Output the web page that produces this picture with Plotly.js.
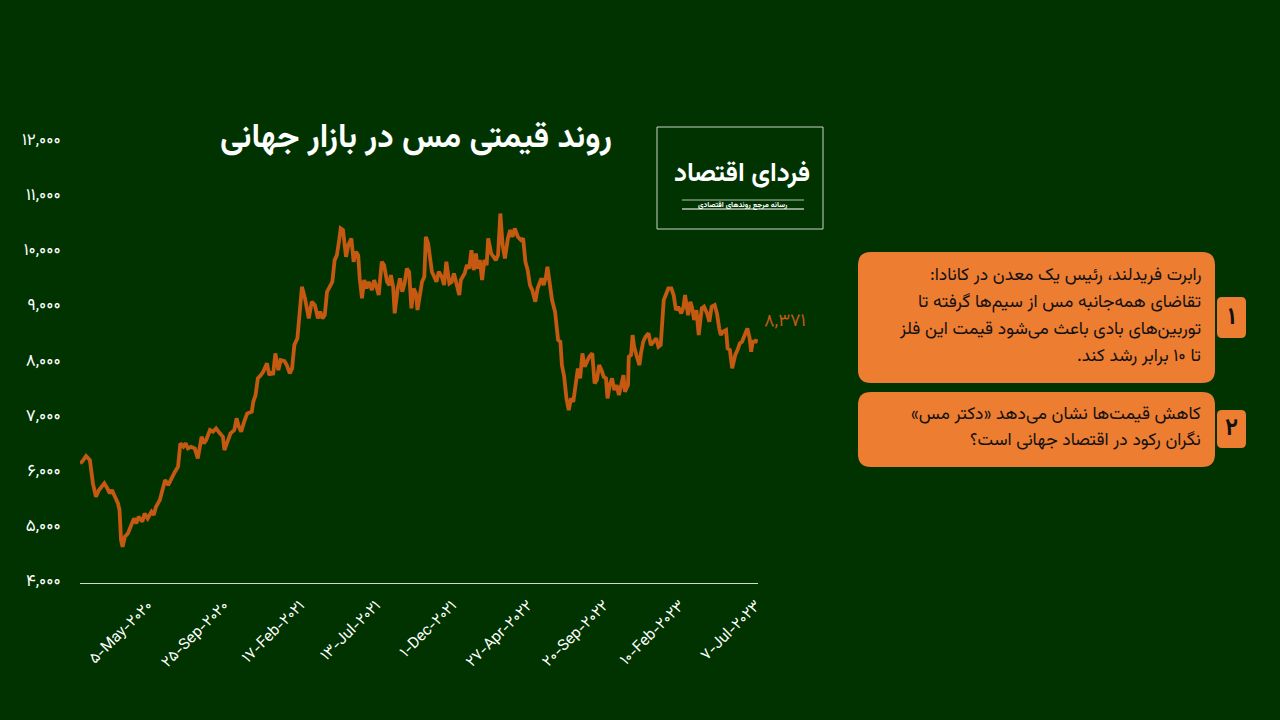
<!DOCTYPE html>
<html>
<head>
<meta charset="utf-8">
<script src="https://cdn.plot.ly/plotly-3.0.1.min.js"></script>
<style>
html,body{margin:0;padding:0;background:#003300;}
#chart{width:1280px;height:720px;}
</style>
</head>
<body>
<div id="chart"></div>
<script>
// Trading-day number (0 = first trading day of 2020) and LME copper price (USD/t)
const tradingDay = [
  0,3,8,13,17,21,25,28,32,36,
  39,42,46,50,52,54,56,59,63,67,
  71,74,77,82,85,89,94,97,100,105,
  109,112,116,120,125,129,132,136,139,142,
  146,151,155,160,163,166,171,175,179,184,
  188,190,195,198,203,206,209,212,216,220,
  226,228,231,234,238,241,246,249,252,254,
  257,261,264,269,272,276,279,282,286,289,
  292,296,300,301,305,309,313,316,319,322,
  325,329,332,335,338,341,343,346,350,353,
  357,360,363,366,368,371,374,377,380,384,
  387,390,393,397,400,404,407,409,412,414,
  418,421,424,427,430,433,436,439,442,444,
  447,450,453,455,458,461,463,466,469,472,
  476,479,482,486,489,492,496,499,501,506,
  509,512,515,518,521,523,526,529,532,535,
  537,541,544,547,550,553,556,559,563,566,
  569,572,576,580,583,586,589,592,595,599,
  602,607,610,613,615,618,621,625,629,632,
  634,637,640,643,646,649,652,655,658,661,
  664,667,670,674,677,680,683,686,689,692,
  694,697,700,703,706,709,712,715,717,721,
  722,725,727,729,732,736,738,741,744,748,
  751,754,758,761,764,768,771,774,778,781,
  784,787,791,794,796,800,803,805,808,811,
  814,818,821,825,828,831,835,838,841,843,
  846,850,852,855,858,862,865,868,871,875,
  878,881,883,885,889,890
];
const price = [
  6117,6150,6249,6177,5754,5511,5633,5693,5754,5663,
  5573,5633,5511,5391,5270,4726,4604,4785,4846,4967,
  5118,5028,5148,5058,5209,5118,5239,5179,5330,5451,
  5693,5814,5723,5845,5965,6056,6480,6418,6480,6388,
  6418,6388,6207,6600,6480,6540,6721,6691,6752,6661,
  6600,6358,6540,6661,6721,6933,6782,6691,6873,7024,
  7054,7235,7356,7659,7719,7779,7931,7719,7779,7719,
  8112,7810,7991,7973,7900,7749,7840,8263,8385,8929,
  9320,9110,8868,8747,9050,8989,8747,8868,8747,8807,
  9230,9351,9411,9805,9896,10168,10380,10349,9865,10077,
  10198,9774,9956,9896,9473,9110,9442,9290,9411,9260,
  9442,9320,9170,9774,9714,9411,9351,9533,9320,8838,
  9290,9473,9230,9381,9653,9593,8929,9290,9200,8898,
  9110,9411,9502,10228,10107,9835,9593,9502,9411,9593,
  9502,9351,9774,9381,9411,9563,9351,9170,9442,9563,
  9714,9653,9986,9623,9925,9653,9805,9442,9805,9714,
  10198,9925,9865,9805,9896,10650,10077,9835,10198,10349,
  10228,10380,10228,10168,10198,9774,9623,9351,9260,9050,
  9290,9473,9351,9502,9683,9411,9079,8868,8354,8324,
  7900,7689,7296,7084,7296,7235,7598,7840,7659,8112,
  7870,7961,8052,8112,7568,7628,7900,7810,7689,7659,
  7296,7537,7659,7447,7537,7356,7507,7719,7416,7537,
  8052,8083,8445,8233,8083,7900,8112,8324,8415,8475,
  8263,8324,8385,8233,8263,9079,9170,9290,9290,9170,
  8898,8959,8838,8959,9170,8807,9050,8959,8717,8898,
  8445,8929,8959,8838,8687,8959,8989,8838,8566,8445,
  8505,8536,8203,8172,7840,8083,8172,8294,8324,8475,
  8566,8385,8142,8324,8324,8371
];
// x-axis tick positions (trading-day numbers) and their labels
const tickDays = [89,189,289,389,489,589,689,789,889];
const tickLabels = ['5-May-2020','25-Sep-2020','17-Feb-2021','13-Jul-2021','1-Dec-2021','27-Apr-2022','20-Sep-2022','10-Feb-2023','7-Jul-2023'];
const yTicks = [4000,5000,6000,7000,8000,9000,10000,11000,12000];

const chartTitle = 'روند قیمتی مس در بازار جهانی';
const logoName = 'فردای اقتصاد';
const logoTagline = 'رسانه مرجع روندهای اقتصادی';
const note1Lines = [
  'رابرت فریدلند، رئیس یک معدن در کانادا:',
  'تقاضای همه‌جانبه مس از سیم‌ها گرفته تا',
  'توربین‌های بادی باعث می‌شود قیمت این فلز',
  'تا ۱۰ برابر رشد کند.'
];
const note2Lines = [
  'کاهش قیمت‌ها نشان می‌دهد «دکتر مس»',
  'نگران رکود در اقتصاد جهانی است؟'
];
const noteNumbers = ['۱','۲'];

function toFa(s){ return String(s).replace(/[0-9]/g, d => '۰۱۲۳۴۵۶۷۸۹'[d]); }
const RLM = '\u200F';

const FA = 'Vazirmatn, "Noto Sans Arabic", "DejaVu Sans", "Noto Sans", sans-serif';
const BG = '#003300';
const ORANGE = '#ED7D31';
const LINE = '#C65911';

// plot-area geometry helpers (pixel -> paper)
const L = 80, R = 758, T = 139, B = 583;
const px = x => (x - L) / (R - L);
const py = y => (B - y) / (B - T);
function roundRect(x0, y0, x1, y1, r){
  const P = (x, y) => px(x).toFixed(5) + ',' + py(y).toFixed(5);
  return 'M' + P(x0 + r, y0) + ' L' + P(x1 - r, y0) + ' Q' + P(x1, y0) + ' ' + P(x1, y0 + r) +
    ' L' + P(x1, y1 - r) + ' Q' + P(x1, y1) + ' ' + P(x1 - r, y1) +
    ' L' + P(x0 + r, y1) + ' Q' + P(x0, y1) + ' ' + P(x0, y1 - r) +
    ' L' + P(x0, y0 + r) + ' Q' + P(x0, y0) + ' ' + P(x0 + r, y0) + ' Z';
}

const trace = {
  x: tradingDay, y: price, type: 'scatter', mode: 'lines',
  line: {color: LINE, width: 3.8}, hoverinfo: 'skip'
};

const shapes = [
  {type:'path', xref:'paper', yref:'paper', path: roundRect(858, 252, 1215, 383, 13), fillcolor: ORANGE, line:{width:0}},
  {type:'path', xref:'paper', yref:'paper', path: roundRect(1217, 297, 1246, 338, 5), fillcolor: ORANGE, line:{width:0}},
  {type:'path', xref:'paper', yref:'paper', path: roundRect(858, 392, 1215, 467, 13), fillcolor: ORANGE, line:{width:0}},
  {type:'path', xref:'paper', yref:'paper', path: roundRect(1217, 410, 1246, 448, 5), fillcolor: ORANGE, line:{width:0}},
  {type:'rect', xref:'paper', yref:'paper', x0: px(657), x1: px(823), y0: py(229), y1: py(127), line:{color:'#c9d3c9', width:1}, fillcolor:'rgba(0,0,0,0)'},
  {type:'line', xref:'paper', yref:'paper', x0: px(682), x1: px(804), y0: py(200), y1: py(200), line:{color:'#b8c4b8', width:1}},
  {type:'line', xref:'paper', yref:'paper', x0: px(682), x1: px(804), y0: py(209), y1: py(209), line:{color:'#b8c4b8', width:1.5}}
];

const annotations = [];
note1Lines.forEach((t, i) => annotations.push({
  xref:'paper', yref:'paper', x: px(1203), y: py(275 + i * 27), xanchor:'right', yanchor:'middle',
  text: t + RLM, showarrow:false, font:{family:FA, size:17.5, color:'#111111'}
}));
note2Lines.forEach((t, i) => annotations.push({
  xref:'paper', yref:'paper', x: px(1203), y: py(414 + i * 26), xanchor:'right', yanchor:'middle',
  text: t + RLM, showarrow:false, font:{family:FA, size:17.5, color:'#111111'}
}));
[[318], [429]].forEach((c, i) => annotations.push({
  xref:'paper', yref:'paper', x: px(1231.5), y: py(c[0]), xanchor:'center', yanchor:'middle',
  text: '<b>' + noteNumbers[i] + '</b>', showarrow:false, font:{family:FA, size:24, color:'#111111'}
}));
annotations.push({
  xref:'paper', yref:'paper', x: px(742), y: py(175), xanchor:'center', yanchor:'middle',
  text: '<b>' + logoName + '</b>', showarrow:false, font:{family:FA, size:26, color:'#ffffff'}
});
annotations.push({
  xref:'paper', yref:'paper', x: px(742), y: py(204.5), xanchor:'center', yanchor:'middle',
  text: '<b>' + logoTagline + '</b>', showarrow:false, font:{family:FA, size:7.5, color:'#ffffff'}
});
// last value label
const lastI = price.length - 1;
annotations.push({
  x: tradingDay[lastI], y: price[lastI], xref:'x', yref:'y', xanchor:'left', yanchor:'middle',
  xshift: 6, yshift: 17, showarrow:false,
  text: toFa(price[lastI].toLocaleString('en-US')),
  font:{family:FA, size:18, color:LINE}
});

const layout = {
  width: 1280, height: 720,
  paper_bgcolor: BG, plot_bgcolor: BG,
  margin: {l: L, r: 1280 - R, t: T, b: 720 - B, pad: 0},
  showlegend: false,
  title: {
    text: '<b>' + chartTitle + '</b>',
    x: 416 / 1280, xanchor: 'center', xref: 'container',
    y: 1 - 135 / 720, yanchor: 'middle', yref: 'container',
    font: {family: FA, size: 33, color: '#ffffff'}
  },
  xaxis: {
    range: [0, 892], showgrid: false, zeroline: false,
    showline: true, linecolor: '#cfdccf', linewidth: 1,
    tickmode: 'array', tickvals: tickDays, ticktext: tickLabels.map(toFa),
    tickangle: -45, ticks: 'outside', ticklen: 6, tickcolor: 'rgba(0,0,0,0)',
    tickfont: {family: FA, size: 15.5, color: '#ffffff'}, automargin: false, fixedrange: true
  },
  yaxis: {
    range: [3946, 12002], showgrid: false, zeroline: false, showline: false,
    tickmode: 'array', tickvals: yTicks, ticktext: yTicks.map(v => toFa(v.toLocaleString('en-US'))),
    ticks: 'outside', ticklen: 15, tickcolor: 'rgba(0,0,0,0)',
    tickfont: {family: FA, size: 17, color: '#ffffff'}, automargin: false, fixedrange: true
  },
  shapes: shapes,
  annotations: annotations
};

Plotly.newPlot('chart', [trace], layout, {displayModeBar: false, staticPlot: true});
</script>
</body>
</html>
